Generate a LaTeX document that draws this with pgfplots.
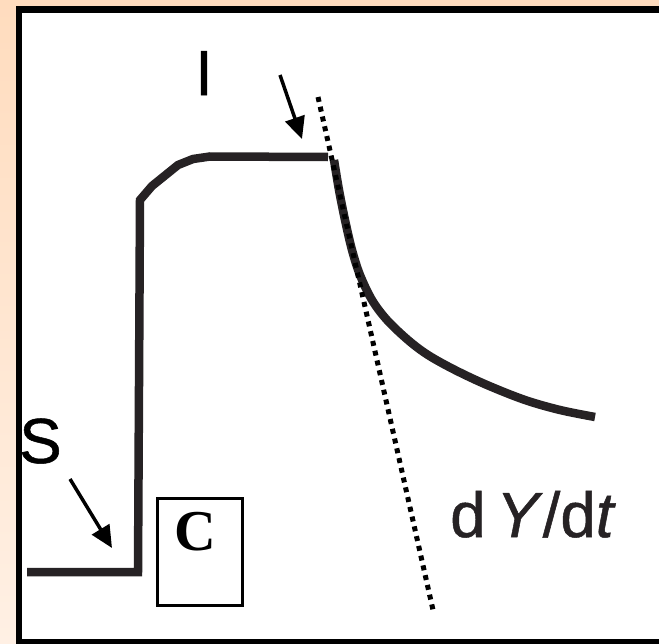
\documentclass[border=0pt]{standalone}
\usepackage{pgfplots}
\pgfplotsset{compat=1.18}
\usetikzlibrary{arrows.meta}
\usepackage{fontspec}
\setmainfont{Liberation Sans}
\newfontfamily\labelfont[FakeBold=0.8]{Liberation Sans}
\newfontfamily\serifbold{Liberation Serif}
\definecolor{peachtop}{RGB}{255,220,190}
\definecolor{peachbot}{RGB}{255,240,228}
\definecolor{ink}{RGB}{38,34,36}
\begin{document}
\begin{tikzpicture}
\begin{axis}[
  scale only axis, width=659bp, height=644bp,
  xmin=0, xmax=659, ymin=0, ymax=644, y dir=reverse,
  hide axis, clip=false,
]
% slide background and frame
\path[top color=peachtop, bottom color=peachbot] (axis cs:0,0) rectangle (axis cs:659,644);
\fill[white] (axis cs:22,13) rectangle (axis cs:659,639);
\fill[black] (axis cs:16,6) rectangle (axis cs:659,13);
\fill[black] (axis cs:16,6) rectangle (axis cs:22,644);
\fill[black] (axis cs:16,639) rectangle (axis cs:659,644);

% rise and plateau
\addplot[ink, line width=8.5bp, line join=miter, line cap=butt] coordinates {
  (27,572) (138,572) (140,200) (152,186) (178,165) (193,159) (210,156.5) (328,157)
};
% decay after the plateau
\addplot[ink, line width=8.5bp, smooth, tension=0.55, line cap=butt] coordinates {
  (334,160) (339,190) (345,220) (352,250) (360,275) (372,300) (387,320)
  (408,340) (428,355) (455,370) (487,385) (525,400) (560,410) (595,417)
};
% initial slope dY/dt
\addplot[black, line width=5bp, dash pattern=on 5bp off 5bp] coordinates {
  (318,97) (433,610)
};

% labels and arrows
\node[anchor=base, inner sep=0pt, font=\labelfont\fontsize{64}{64}\selectfont] at (axis cs:204,95) {I};
\draw[line width=3.5bp, -{Triangle[length=22bp,width=20bp]}] (axis cs:280,75) -- (axis cs:302,139);
\node[anchor=base west, inner sep=0pt, font=\labelfont\fontsize{64}{64}\selectfont] at (axis cs:19,463) {S};
\draw[line width=3.5bp, -{Triangle[length=22bp,width=20bp]}] (axis cs:70,479) -- (axis cs:112,548);
\draw[black, line width=3bp] (axis cs:157,498) rectangle (axis cs:242,605);
\node[inner sep=0pt, font=\serifbold\bfseries\fontsize{58}{58}\selectfont] at (axis cs:195,532) {C};
\node[anchor=base west, inner sep=0pt, font=\labelfont\fontsize{64}{64}\selectfont, text=ink] at (axis cs:450,537) {d\,\textit{Y}/d\textit{t}};
\end{axis}
\end{tikzpicture}
\end{document}
